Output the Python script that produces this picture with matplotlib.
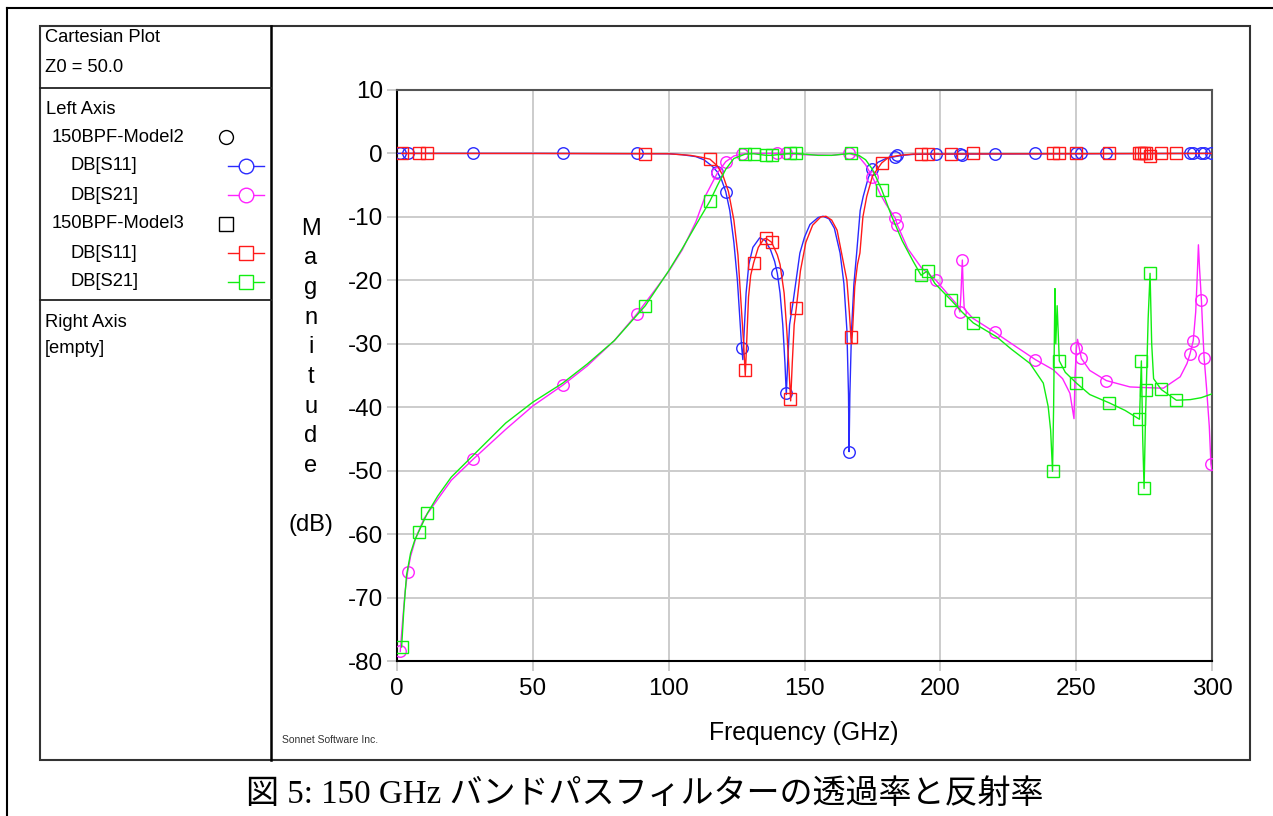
import matplotlib
matplotlib.use("Agg")
import matplotlib.pyplot as plt
from matplotlib.lines import Line2D
from matplotlib.patches import Rectangle

W, H = 1273, 816

# ---------------- data ----------------
# Model2 (circles): line samples
m2_f_line = [0, 50, 100, 105, 110, 113, 116, 117.9, 119.5, 121, 122.5, 124, 125.3, 126.2, 126.9, 127.3,
             127.8, 128.5, 129.5, 131, 133.5, 135.5, 137.5, 139, 140, 141, 142, 142.8, 143.3, 143.8,
             144.5, 145.9, 148.3, 150, 152, 155, 156.8, 159, 161, 163.1, 164.5, 165.6, 166.2, 166.4,
             166.7, 167.3, 168.2, 169.2, 170.5, 171.6, 173.5, 175, 177, 180, 183.4, 186, 190, 200, 250, 300]
m2_s11_line = [0, 0, -0.05, -0.2, -0.5, -1.0, -2.0, -2.9, -4.2, -6.0, -9, -14, -20, -26, -30.7, -32.5,
               -28, -22, -17.5, -14.8, -13.3, -13.7, -15.2, -17, -18.9, -22, -27, -33, -38, -33,
               -27, -23.1, -15.7, -13.2, -11.2, -10.1, -9.9, -10.3, -11.8, -15.7, -20.5, -27.8, -38, -47,
               -38, -28, -20.5, -15.7, -9, -6.8, -3.8, -2.4, -1.4, -0.8, -0.5, -0.3, -0.15, -0.1, -0.05, 0]

m2_f21_line = [1.2, 2, 3, 3.9, 5, 7, 10, 15, 20, 28, 40, 50, 61.1, 70, 80, 88.3, 95, 100, 105, 110,
               113.4, 117.9, 121, 124, 127, 130, 140.5, 150, 160, 166.4, 170, 172.5, 175, 178, 180,
               183.4, 184.2, 188, 193, 198.4, 203, 206.5, 207.2, 207.6, 208.1, 208.4, 208.8, 212,
               220.1, 228, 235, 241.6, 245, 247.7, 249.2, 249.6, 250.1, 250.5, 251.9, 255, 261.1,
               269.8, 275, 282.1, 288.3, 290.8, 291.9, 293.1, 294, 294.6, 295, 295.4, 296.1, 296.6,
               297.1, 298, 299, 299.6, 300]
m2_s21_line = [-78.5, -74, -69, -66.0, -63.5, -60.5, -57.5, -54.5, -51.5, -48.2, -43.5, -39.8, -36.5,
               -33.5, -29.5, -25.3, -21.5, -18.6, -15.2, -10.8, -6.8, -3.1, -1.3, -0.4, -0.1, 0, 0,
               -0.2, -0.3, 0, -0.5, -1.8, -3.7, -6.5, -8, -10.2, -11.3, -15, -18, -20.0, -22.3, -24.0,
               -25.0, -22, -16.8, -21, -24.5, -26, -28.2, -30.5, -32.5, -34.1, -35.5, -37.8, -41.8,
               -35, -30.7, -29.3, -32.3, -34.2, -35.8, -36.8, -36.9, -37.0, -35.2, -33.1, -31.6,
               -29.5, -25, -19, -14.4, -18, -23.1, -28, -32.2, -37, -43, -48.9, -50]

# Model2 simulated frequency points (markers)
m2_f_pts = [1.2, 3.9, 28.0, 61.1, 88.3, 117.9, 121.0, 126.9, 140.0, 143.2, 166.4, 175.0, 183.4,
            184.2, 198.4, 207.2, 208.1, 220.1, 235.0, 250.1, 251.9, 261.1, 291.9, 293.1, 296.1,
            297.1, 299.6]
m2_s11_pts = [0, 0, 0, 0, 0, -2.9, -6.0, -30.7, -18.9, -37.8, -47.0, -2.4, -0.5, -0.3, -0.1, -0.1,
              -0.3, -0.05, 0, 0, 0, 0, 0, 0, 0, 0, 0]
m2_s21_pts = [-78.5, -66.0, -48.2, -36.5, -25.3, -3.1, -1.3, -0.1, 0, 0, 0, -3.7, -10.2, -11.3,
              -20.0, -25.0, -16.8, -28.2, -32.5, -30.7, -32.3, -35.8, -31.6, -29.5, -23.1, -32.2,
              -48.9]

# Model3 (squares): line samples
m3_f_line = [1.7, 50, 100, 108, 112, 115.2, 118, 120, 122, 124, 125.5, 126.7, 127.6, 128.2, 128.6,
             129.4, 130.2, 131.3, 133, 135, 135.9, 137.9, 140, 141, 142.5, 143.5, 144.3, 144.9, 145.5,
             146.2, 147, 148.5, 150.5, 153, 156, 157.9, 160, 162, 164, 165.6, 166.5, 167.1, 167.4,
             167.8, 168.5, 169.5, 170.4, 171.5, 172.9, 175, 178.4, 181, 185, 190, 240, 300]
m3_s11_line = [0, 0, -0.05, -0.3, -0.6, -0.9, -2, -3.5, -6, -10.5, -16, -24, -30, -35, -31,
               -22.6, -19.2, -17.2, -14.8, -13.5, -13.4, -14.0, -16.0, -17.5, -22, -28, -34, -39, -33,
               -27, -24.3, -18.5, -14, -11.3, -10.0, -9.9, -10.5, -12.1, -16.5, -20, -25, -29.0, -30,
               -27, -21, -17.5, -15.7, -10, -6.8, -3.6, -1.5, -0.6, -0.3, -0.1, -0.05, 0]

m3_f21_line = [1.7, 2.5, 3.5, 5, 6.5, 8.0, 11.2, 15, 20, 28, 40, 50, 61, 70, 80, 91.4, 100, 105, 110,
               115.2, 118, 121, 124, 128.2, 131.3, 135.9, 137.9, 140, 144.8, 147, 155, 160, 167.1,
               170, 172.5, 175, 178.4, 182, 186, 190, 192.9, 195.3, 198, 203.9, 208, 212.1, 220.7,
               226, 233, 237.9, 239.7, 240.6, 241.3, 241.7, 242.0, 242.2, 242.5, 243.0, 243.8, 246,
               250.1, 255, 262.1, 268, 273.3, 274.0, 274.5, 275.0, 275.5, 275.8, 276.5, 277.2, 277.8,
               278.5, 281.3, 286.9, 292, 296, 300]
m3_s21_line = [-77.8, -72, -66.5, -63, -61, -59.6, -56.7, -54, -51, -47.6, -42.5, -39.2, -36.2, -33.2,
               -29.5, -24.0, -18.5, -15, -11.3, -7.5, -5, -2.5, -0.8, -0.1, -0.05, -0.3, -0.3, -0.2,
               0, 0, -0.3, -0.3, 0, -0.3, -1, -2.5, -5.7, -9.8, -13.8, -17, -19.2, -18.5, -20.5,
               -23.1, -25, -26.7, -28.9, -30.8, -33.1, -36.2, -39.9, -43.6, -50.1, -40, -28, -21.3,
               -30, -24, -32.7, -34.5, -36.2, -38, -39.3, -40.5, -41.9, -32.7, -45, -52.8, -42,
               -37.3, -26, -18.9, -30, -35.5, -37.2, -38.9, -38.8, -38.5, -37.9]

# Model3 simulated frequency points (markers)
m3_f_pts = [1.7, 8.0, 11.2, 91.4, 115.2, 128.2, 131.3, 135.9, 137.9, 144.8, 147.0, 167.1, 178.4,
            192.9, 195.3, 203.9, 212.1, 241.3, 243.8, 250.1, 262.1, 273.3, 274.0, 275.0, 275.8,
            277.2, 281.3, 286.9]
m3_s11_pts = [0, 0, 0, -0.05, -0.9, -34.1, -17.2, -13.4, -14.0, -38.7, -24.3, -29.0, -1.5,
              -0.1, -0.1, -0.05, 0, 0, 0, 0, 0, 0, 0, 0, 0, -0.4, 0, 0]
m3_s21_pts = [-77.8, -59.6, -56.7, -24.0, -7.5, -0.1, -0.05, -0.3, -0.3, 0, 0, 0, -5.7,
              -19.2, -18.5, -23.1, -26.7, -50.1, -32.7, -36.2, -39.3, -41.9, -32.7, -52.8, -37.3,
              -18.9, -37.2, -38.9]

x_ticks = [0, 50, 100, 150, 200, 250, 300]
y_ticks = [10, 0, -10, -20, -30, -40, -50, -60, -70, -80]

C_BLUE = "#2a2aff"
C_MAG = "#ff22ff"
C_RED = "#ff1a1a"
C_GRN = "#11ee11"

# ---------------- figure ----------------
fig = plt.figure(figsize=(W / 100, H / 100), dpi=100)
fig.patch.set_facecolor("white")


def fx(x):
    return x / W


def fy(y):
    return 1 - y / H


ax = fig.add_axes([fx(397), fy(661), (1212 - 397) / W, (661 - 90) / H])

ms_c = 8.3
ms_s = 8.3
lw = 1.0
ax.plot(m2_f_line, m2_s11_line, color=C_BLUE, lw=lw, zorder=3)
ax.plot(m2_f_pts, m2_s11_pts, ls="none", marker="o", ms=ms_c, mfc="none", mec=C_BLUE, mew=1.0, zorder=3)
ax.plot(m2_f21_line, m2_s21_line, color=C_MAG, lw=lw, zorder=3)
ax.plot(m2_f_pts, m2_s21_pts, ls="none", marker="o", ms=ms_c, mfc="none", mec=C_MAG, mew=1.0, zorder=3)
ax.plot(m3_f_line, m3_s11_line, color=C_RED, lw=lw, zorder=4)
ax.plot(m3_f_pts, m3_s11_pts, ls="none", marker="s", ms=ms_s, mfc="none", mec=C_RED, mew=1.0, zorder=4)
ax.plot(m3_f21_line, m3_s21_line, color=C_GRN, lw=lw, zorder=4)
ax.plot(m3_f_pts, m3_s21_pts, ls="none", marker="s", ms=ms_s, mfc="none", mec=C_GRN, mew=1.0, zorder=4)

ax.set_xlim(0, 300)
ax.set_ylim(-80, 10)
ax.set_xticks(x_ticks)
ax.set_yticks(y_ticks)
ax.grid(True, color="#cccccc", lw=1.4, zorder=0)
ax.set_axisbelow(True)
tick_font = dict(family="Liberation Sans", size=17.5)
ax.set_xticklabels([str(v) for v in x_ticks], **tick_font)
ax.set_yticklabels([str(v) for v in y_ticks], **tick_font)
ax.tick_params(axis="both", direction="out", length=7, width=1.4, color="#cccccc", pad=3)
ax.tick_params(axis="x", pad=5)
for s in ["left", "bottom"]:
    ax.spines[s].set_color("black")
    ax.spines[s].set_linewidth(1.5)
for s in ["top", "right"]:
    ax.spines[s].set_color("#555555")
    ax.spines[s].set_linewidth(1.5)

# axis labels
fig.text(fx(804), fy(733), "Frequency (GHz)", ha="center", va="center",
         family="Liberation Sans", size=17.8)
fig.text(fx(311), fy(377), "M\na\ng\nn\ni\nt\nu\nd\ne\n\n(dB)", ha="center", va="center",
         family="Liberation Sans", size=17, linespacing=1.45, multialignment="center")
fig.text(fx(282), fy(740), "Sonnet Software Inc.", ha="left", va="center",
         family="Liberation Sans", size=7.5, color="#333333")

# frames
def hline(x0, x1, y, color="black", lw=1.5):
    fig.add_artist(Line2D([fx(x0), fx(x1)], [fy(y), fy(y)], color=color, lw=lw,
                          transform=fig.transFigure))


def vline(x, y0, y1, color="black", lw=1.5):
    fig.add_artist(Line2D([fx(x), fx(x)], [fy(y0), fy(y1)], color=color, lw=lw,
                          transform=fig.transFigure))


# outer page frame (top and left)
hline(7, 1273, 8, lw=1.5)
vline(7, 8, 816, lw=1.5)
# main box
fig.add_artist(Rectangle((fx(40), fy(760)), (1250 - 40) / W, (760 - 26) / H, fill=False,
                         ec="#333333", lw=1.5, transform=fig.transFigure))
vline(271, 26, 760, color="black", lw=1.8)
hline(40, 271, 88, color="#222222", lw=1.3)
hline(40, 271, 300, color="#222222", lw=1.3)

leg_font = dict(family="Liberation Sans", size=13.2, va="center", ha="left")
fig.text(fx(45), fy(38), "Cartesian Plot", **leg_font)
fig.text(fx(45), fy(68), "Z0 = 50.0", **leg_font)
fig.text(fx(46), fy(110), "Left Axis", **leg_font)
fig.text(fx(52), fy(137), "150BPF-Model2", **leg_font)
fig.text(fx(70), fy(166), "DB[S11]", **leg_font)
fig.text(fx(70), fy(195), "DB[S21]", **leg_font)
fig.text(fx(52), fy(224), "150BPF-Model3", **leg_font)
fig.text(fx(70), fy(253), "DB[S11]", **leg_font)
fig.text(fx(70), fy(282), "DB[S21]", **leg_font)
fig.text(fx(45), fy(323), "Right Axis", **leg_font)
fig.text(fx(45), fy(348), "[empty]", **leg_font)


def leg_marker(y, marker, color, line=True):
    if line:
        fig.add_artist(Line2D([fx(228), fx(264)], [fy(y), fy(y)], color=color, lw=1.0,
                              transform=fig.transFigure))
        fig.add_artist(Line2D([fx(246)], [fy(y)], marker=marker, ms=10.5 if marker == "o" else 10,
                              mfc="white", mec=color, mew=1.0, ls="none", transform=fig.transFigure))
    else:
        fig.add_artist(Line2D([fx(226)], [fy(y)], marker=marker, ms=10 if marker == "o" else 10,
                              mfc="none", mec=color, mew=1.0, ls="none", transform=fig.transFigure))


leg_marker(137, "o", "black", line=False)
leg_marker(166, "o", C_BLUE)
leg_marker(195, "o", C_MAG)
leg_marker(224, "s", "black", line=False)
leg_marker(253, "s", C_RED)
leg_marker(282, "s", C_GRN)

# caption
fig.text(fx(645), fy(795), "図 5: 150 GHz バンドパスフィルターの透過率と反射率", ha="center", va="center",
         family=["Liberation Serif", "Noto Sans CJK JP"], size=23.8)

fig.savefig("out.png", dpi=100)
